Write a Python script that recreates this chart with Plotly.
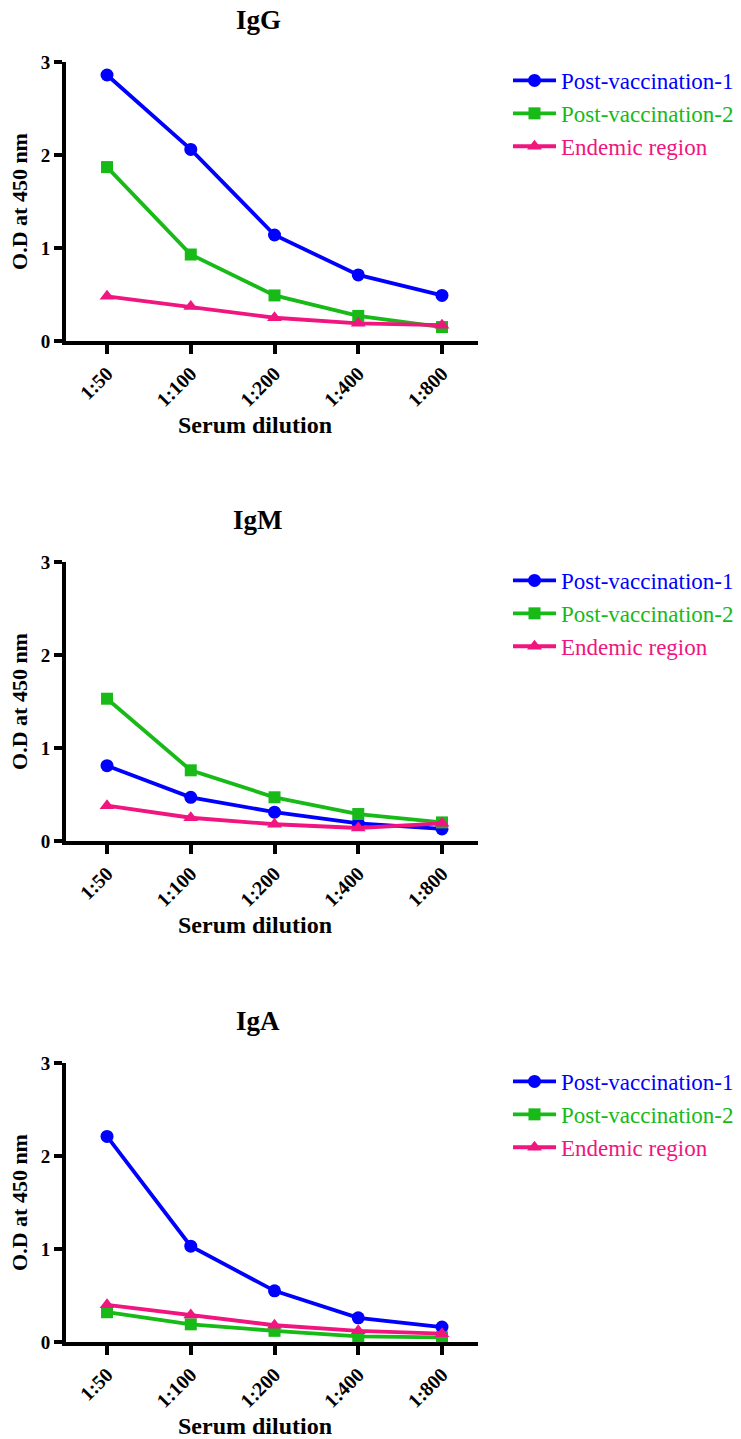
import plotly.graph_objects as go

W, H = 741, 1439

dilutions = ["1:50", "1:100", "1:200", "1:400", "1:800"]
series_names = ["Post-vaccination-1", "Post-vaccination-2", "Endemic region"]

igg_pv1 = [2.86, 2.06, 1.14, 0.71, 0.49]
igg_pv2 = [1.87, 0.93, 0.49, 0.27, 0.15]
igg_end = [0.48, 0.37, 0.25, 0.19, 0.17]

igm_pv1 = [0.81, 0.47, 0.31, 0.19, 0.13]
igm_pv2 = [1.53, 0.76, 0.47, 0.29, 0.20]
igm_end = [0.38, 0.25, 0.18, 0.14, 0.19]

iga_pv1 = [2.21, 1.03, 0.55, 0.26, 0.16]
iga_pv2 = [0.32, 0.19, 0.12, 0.06, 0.05]
iga_end = [0.40, 0.29, 0.18, 0.12, 0.09]

panel_titles = ["IgG", "IgM", "IgA"]
y_ticks = [0, 1, 2, 3]
x_title = "Serum dilution"
y_title = "O.D at 450 nm"

colors = ["#0000FF", "#17BA17", "#F0157F"]
symbols = ["circle", "square", "triangle-up"]
marker_sizes = [13, 12, 13]

panels = [
    (igg_pv1, igg_pv2, igg_end),
    (igm_pv1, igm_pv2, igm_end),
    (iga_pv1, iga_pv2, iga_end),
]

SERIF = "Liberation Serif"

# plot area pixel positions (top, bottom) for each panel
px_top = [62, 562, 1063]
px_bot = [341, 841, 1342]
x_left, x_right = 66, 478

fig = go.Figure()
legend_names = ["legend", "legend2", "legend3"]

for p, data in enumerate(panels):
    ax = "" if p == 0 else str(p + 1)
    for s, vals in enumerate(data):
        fig.add_trace(go.Scatter(
            x=dilutions, y=vals, mode="lines+markers",
            name=series_names[s],
            line=dict(color=colors[s], width=3.8),
            marker=dict(color=colors[s], symbol=symbols[s], size=marker_sizes[s]),
            xaxis="x" + ax, yaxis="y" + ax,
            legend=legend_names[p],
            legendgroup=f"g{p}_{s}",
            cliponaxis=False,
        ))

layout = dict(
    width=W, height=H,
    margin=dict(l=0, r=0, t=0, b=0, autoexpand=False),
    paper_bgcolor="white", plot_bgcolor="white",
    font=dict(family=SERIF, color="black"),
    showlegend=True,
)

annotations = []
for p in range(3):
    ax = "" if p == 0 else str(p + 1)
    dom_y = [1 - px_bot[p] / H, 1 - px_top[p] / H]
    layout["xaxis" + ax] = dict(
        domain=[x_left / W, x_right / W],
        anchor="y" + ax,
        range=[-0.49, 4.43],
        type="category",
        showline=True, linecolor="black", linewidth=4,
        ticks="outside", ticklen=9, tickwidth=3.5, tickcolor="black",
        tickangle=-45,
        tickfont=dict(family=SERIF, size=20, color="black", weight="bold"),
        showgrid=False, zeroline=False, fixedrange=True,
    )
    layout["yaxis" + ax] = dict(
        domain=dom_y,
        anchor="x" + ax,
        range=[0, 3],
        tickvals=y_ticks,
        showline=True, linecolor="black", linewidth=4,
        ticks="outside", ticklen=8, tickwidth=3.5, tickcolor="black",
        tickfont=dict(family=SERIF, size=19, color="black", weight="bold"),
        title=dict(text=y_title, standoff=8,
                   font=dict(family=SERIF, size=22, color="black", weight="bold")),
        showgrid=False, zeroline=False, fixedrange=True,
    )
    # panel title
    annotations.append(dict(
        text=f"<b>{panel_titles[p]}</b>", x=258 / W, y=1 - (px_top[p] - 42) / H,
        xref="paper", yref="paper", xanchor="center", yanchor="middle",
        showarrow=False, font=dict(family=SERIF, size=27, color="black"),
    ))
    # x axis title
    annotations.append(dict(
        text=f"<b>{x_title}</b>", x=255 / W, y=1 - (px_bot[p] + 84) / H,
        xref="paper", yref="paper", xanchor="center", yanchor="middle",
        showarrow=False, font=dict(family=SERIF, size=24, color="black"),
    ))
    lg = legend_names[p]
    layout[lg] = dict(
        x=508 / W, y=1 - (px_top[p] - 3) / H, xanchor="left", yanchor="top",
        font=dict(family=SERIF, size=23),
        bgcolor="rgba(0,0,0,0)", borderwidth=0,
        tracegroupgap=0, itemwidth=43,
    )

layout["annotations"] = annotations
fig.update_layout(**layout)

# colour legend text to match series
for tr in fig.data:
    idx = series_names.index(tr.name)
    tr.name = f"<span style='color:{colors[idx]}'>{tr.name}</span>"

fig.write_html("out.html")
